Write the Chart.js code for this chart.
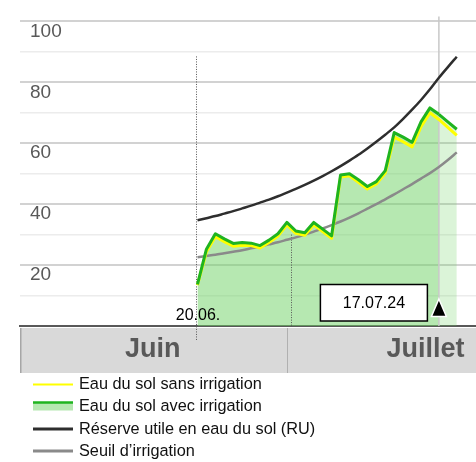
<!DOCTYPE html>
<html><head><meta charset="utf-8">
<script src="https://cdn.jsdelivr.net/npm/chart.js@4/dist/chart.umd.min.js"></script>
<style>html,body{margin:0;padding:0;background:#fff}canvas{display:block}</style>
</head><body>
<canvas id="c" width="476" height="462"></canvas>
<script>
// ---------- data ----------
const dates = ['20.06.','21.06.','22.06.','23.06.','24.06.','25.06.','26.06.','27.06.','28.06.','29.06.','30.06.',
  '01.07.','02.07.','03.07.','04.07.','05.07.','06.07.','07.07.','08.07.','09.07.','10.07.','11.07.','12.07.','13.07.',
  '14.07.','15.07.','16.07.','17.07.','18.07.','19.07.'];
const eauAvecIrrigation = [13.7,25.2,30.3,28.6,27.1,27.4,27.2,26.4,28.2,30.3,34.0,31.2,30.6,34.0,31.8,29.6,49.6,50.0,48.0,45.8,47.4,51.0,63.5,62.0,60.3,67.0,71.6,69.5,67.0,64.6];
const eauSansIrrigation = [13.4,24.4,29.3,27.7,26.2,26.5,26.4,25.6,27.4,29.5,33.2,30.4,29.8,33.2,31.0,28.8,48.9,49.3,47.2,45.0,46.6,50.2,62.0,60.5,58.8,65.4,70.0,67.8,65.2,62.6];
const reserveUtile = [34.7,35.4,36.1,36.9,37.7,38.6,39.5,40.5,41.5,42.6,43.8,45.0,46.3,47.7,49.2,50.8,52.5,54.3,56.2,58.3,60.5,62.8,65.2,68.0,71.0,74.2,77.7,81.5,85.0,88.4];
const seuilIrrigation = [22.6,23.0,23.4,23.9,24.4,24.9,25.5,26.1,26.8,27.5,28.3,29.1,30.0,31.0,32.0,33.1,34.3,35.6,37.0,38.5,40.0,41.6,43.2,44.9,46.6,48.4,50.2,52.2,54.5,57.0];
const yTickLabels = [20, 40, 60, 80, 100];
const months = ['Juin', 'Juillet'];
const monthStartDay = [0, 30];
const monthEndDay = [30, 61];
const startLabel = '20.06.';
const todayLabel = '17.07.24';
const dottedMarkDays = [30.5];
const seriesLabels = ['Eau du sol sans irrigation', 'Eau du sol avec irrigation', 'Réserve utile en eau du sol (RU)', 'Seuil d’irrigation'];

// ---------- helpers ----------
function dayOf(s){ const p = s.split('.').map(Number); return p[0] + (p[1] === 7 ? 30 : 0); }
function pts(vals){ return dates.map((d,i)=>({x: dayOf(d), y: vals[i]})); }
const startDay = dayOf(startLabel);
const todayDay = dayOf(todayLabel);

const COL = {yellow:'#ffff00', green:'#1fb41f', fill:'rgba(110,210,100,0.5)', fillLight:'rgba(110,210,100,0.25)', black:'#2e2e2e', grey:'#8a8a8a'};

function seg(ctx, x0,y0,x1,y1){ ctx.beginPath(); ctx.moveTo(x0,y0); ctx.lineTo(x1,y1); ctx.stroke(); }

const overlay = {
  id: 'overlay',
  beforeDatasetsDraw(chart){
    const {ctx, chartArea:a, scales:{x, y}} = chart;
    ctx.save();
    // month band
    const bt = a.bottom + 2, bb = a.bottom + 47;
    ctx.fillStyle = '#d9d9d9';
    ctx.fillRect(a.left, bt, a.right - a.left, bb - bt);
    ctx.strokeStyle = '#a6a6a6'; ctx.lineWidth = 1.5;
    seg(ctx, a.left + 0.75, bt, a.left + 0.75, bb);
    ctx.save();
    ctx.beginPath(); ctx.rect(a.left, bt, a.right - a.left, bb - bt); ctx.clip();
    months.forEach((m, i) => {
      const x0 = x.getPixelForValue(monthStartDay[i]), x1 = x.getPixelForValue(monthEndDay[i]);
      if (i > 0) { ctx.strokeStyle = '#b0b0b0'; ctx.lineWidth = 1; seg(ctx, Math.round(x0) + 0.5, bt, Math.round(x0) + 0.5, bb); }
      ctx.fillStyle = '#595959';
      ctx.font = 'bold 27px "Liberation Sans", Arial, sans-serif';
      ctx.textAlign = 'center'; ctx.textBaseline = 'middle';
      ctx.fillText(m, (x0 + x1) / 2, (bt + bb) / 2 - 1);
    });
    ctx.restore();
    // today line
    const tx = x.getPixelForValue(todayDay);
    ctx.strokeStyle = '#c8c8c8'; ctx.lineWidth = 1.5;
    seg(ctx, tx, a.top - 5, tx, a.bottom);
    // dotted lines
    ctx.setLineDash([1, 1.5]); ctx.strokeStyle = '#555'; ctx.lineWidth = 1;
    const sx = Math.round(x.getPixelForValue(startDay)) - 0.5;
    seg(ctx, sx, y.getPixelForValue(88.5), sx, a.bottom + 14);
    dottedMarkDays.forEach(d => {
      const dx = Math.round(x.getPixelForValue(d)) + 0.5;
      seg(ctx, dx, y.getPixelForValue(30), dx, a.bottom);
    });
    ctx.restore();
  },
  afterDraw(chart){
    const {ctx, chartArea:a, scales:{x, y}} = chart;
    ctx.save();
    // start date label
    const sx = x.getPixelForValue(startDay);
    ctx.fillStyle = '#000';
    ctx.font = '16px "Liberation Sans", Arial, sans-serif';
    ctx.textAlign = 'center'; ctx.textBaseline = 'middle';
    ctx.fillText(startLabel, sx + 0.5, a.bottom - 10);
    // today box
    const tx = x.getPixelForValue(todayDay);
    const bw = 107, bh = 36.5, bxr = tx - 11.5, btop = a.bottom - 41.5;
    ctx.fillStyle = '#fff'; ctx.fillRect(bxr - bw, btop, bw, bh);
    ctx.strokeStyle = '#000'; ctx.lineWidth = 1.5; ctx.strokeRect(bxr - bw, btop, bw, bh);
    ctx.fillStyle = '#000';
    ctx.fillText(todayLabel, bxr - bw / 2, btop + bh / 2 + 0.5);
    // triangle
    ctx.beginPath();
    ctx.moveTo(tx, a.bottom - 27); ctx.lineTo(tx + 7.5, a.bottom - 9.5); ctx.lineTo(tx - 7.5, a.bottom - 9.5); ctx.closePath();
    ctx.fillStyle = '#000'; ctx.fill();
    ctx.strokeStyle = '#fff'; ctx.lineWidth = 1.5; ctx.stroke();
    // legend
    const ds = chart.data.datasets;
    const order = [1, 0, 2, 3];
    const rowsY = [384.5, 406.5, 429, 451];
    ctx.font = '16.3px "Liberation Sans", Arial, sans-serif';
    ctx.textAlign = 'left'; ctx.textBaseline = 'middle';
    order.forEach((di, r) => {
      const d = ds[di], ry = rowsY[r];
      if (d.fill) {
        ctx.fillStyle = COL.fill; ctx.fillRect(33, ry - 3.5, 40, 7.5);
        ctx.strokeStyle = d.borderColor; ctx.lineWidth = 2.5; seg(ctx, 33, ry - 4, 73, ry - 4);
      } else {
        ctx.strokeStyle = d.borderColor; ctx.lineWidth = di === 1 ? 2 : 2.8; seg(ctx, 33, ry, 73, ry);
      }
      ctx.fillStyle = '#111';
      ctx.fillText(d.label, 79, ry + 0.5);
    });
    ctx.restore();
  }
};

new Chart(document.getElementById('c'), {
  type: 'line',
  data: {
    datasets: [
      { label: seriesLabels[1], data: pts(eauAvecIrrigation), borderColor: COL.green, borderWidth: 3,
        backgroundColor: COL.fill, fill: 'origin', pointRadius: 0, tension: 0, borderJoinStyle: 'round',
        segment: { backgroundColor: c => c.p0.parsed.x >= todayDay ? COL.fillLight : undefined } },
      { label: seriesLabels[0], data: pts(eauSansIrrigation), borderColor: COL.yellow, borderWidth: 3,
        fill: false, pointRadius: 0, tension: 0, borderJoinStyle: 'round' },
      { label: seriesLabels[2], data: pts(reserveUtile), borderColor: COL.black, borderWidth: 2.5,
        fill: false, pointRadius: 0, cubicInterpolationMode: 'monotone' },
      { label: seriesLabels[3], data: pts(seuilIrrigation), borderColor: COL.grey, borderWidth: 2.5,
        fill: false, pointRadius: 0, cubicInterpolationMode: 'monotone' }
    ]
  },
  options: {
    responsive: false, animation: false, devicePixelRatio: 1,
    layout: { padding: { left: 20, top: 15, right: 0, bottom: 136 } },
    plugins: { legend: { display: false }, tooltip: { enabled: false }, filler: { drawTime: 'beforeDatasetsDraw' } },
    scales: {
      x: { type: 'linear', min: 0.15, max: 51.15,
        afterFit: s => { s.height = 0; },
        grid: { display: false, drawTicks: false }, ticks: { display: false },
        border: { display: true, color: '#595959', width: 2 } },
      y: { min: 0, max: 100,
        afterFit: s => { s.width = 0; },
        ticks: { stepSize: 10, mirror: true, padding: 10, labelOffset: 10, color: '#595959',
          font: { family: '"Liberation Sans", Arial, sans-serif', size: 19 },
          callback: v => yTickLabels.includes(v) ? String(v) : '' },
        grid: { drawTicks: false,
          color: c => (c.tick && c.tick.value % 20 === 0) ? '#d2d2d2' : '#ececec',
          lineWidth: c => (c.tick && c.tick.value % 20 === 0) ? 2 : 1.5 },
        border: { display: false } }
    }
  },
  plugins: [overlay]
});
</script>
</body></html>
